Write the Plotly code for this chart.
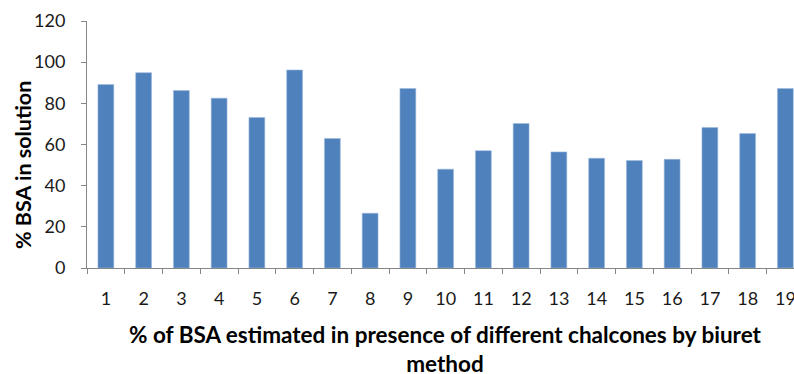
import plotly.graph_objects as go

categories = [str(i) for i in range(1, 20)]
bsa_percent = [89.1, 94.9, 86.2, 82.5, 73.1, 96.2, 62.9, 26.6, 87.2, 48.0,
               57.0, 70.2, 56.4, 53.3, 52.2, 52.8, 68.2, 65.3, 87.2]
y_ticks = [0, 20, 40, 60, 80, 100, 120]

x_title = "% of BSA estimated in presence of different chalcones by biuret<br>method"
y_title = "% BSA in solution"

W, H = 794, 374
L, R, T, B = 87, 0, 21, 106
plot_w = W - L - R
plot_h = H - T - B
cat_px = 37.75
visible = plot_w / cat_px

fig = go.Figure(go.Bar(
    x=categories, y=bsa_percent,
    width=0.42,
    marker=dict(color="#4F81BD", line=dict(color="#9EB9DC", width=0.6)),
))

font_family = "Lato, 'Open Sans', sans-serif"
axis_color = "#868686"

fig.update_layout(
    width=W, height=H,
    margin=dict(l=L, r=R, t=T, b=B, autoexpand=False),
    paper_bgcolor="white", plot_bgcolor="white",
    showlegend=False,
    font=dict(family=font_family, size=18, color="#1a1a1a"),
)
fig.update_xaxes(
    type="category",
    range=[-0.5, -0.5 + visible],
    automargin=False,
    tickson="boundaries",
    ticks="outside", ticklen=5, tickcolor=axis_color, tickwidth=1,
    showline=True, linecolor=axis_color, linewidth=1,
    showgrid=False, zeroline=False,
    ticklabelstandoff=14,
    tickfont=dict(size=18, color="#1a1a1a"),
)
fig.update_yaxes(
    range=[0, 120],
    automargin=False,
    tickvals=y_ticks,
    ticks="outside", ticklen=5, tickcolor=axis_color, tickwidth=1,
    showline=True, linecolor=axis_color, linewidth=1,
    showgrid=False, zeroline=False,
    ticklabelstandoff=12,
    tickfont=dict(size=18, color="#1a1a1a"),
)

fig.add_annotation(
    text=y_title, textangle=-90,
    xref="paper", yref="paper",
    x=(23 - L) / plot_w, y=(268 - 165) / plot_h,
    xanchor="center", yanchor="middle",
    showarrow=False,
    font=dict(family=font_family, size=21.5, color="black", weight="bold"),
)
fig.add_annotation(
    text=x_title,
    xref="paper", yref="paper",
    x=(445 - L) / plot_w, y=(268 - 349) / plot_h,
    xanchor="center", yanchor="middle",
    showarrow=False,
    font=dict(family=font_family, size=22.5, color="black", weight="bold"),
)

fig.write_html(
    "out.html",
    config={"displayModeBar": False},
    post_script="document.body.style.margin='0';document.body.style.overflow='hidden';",
)
